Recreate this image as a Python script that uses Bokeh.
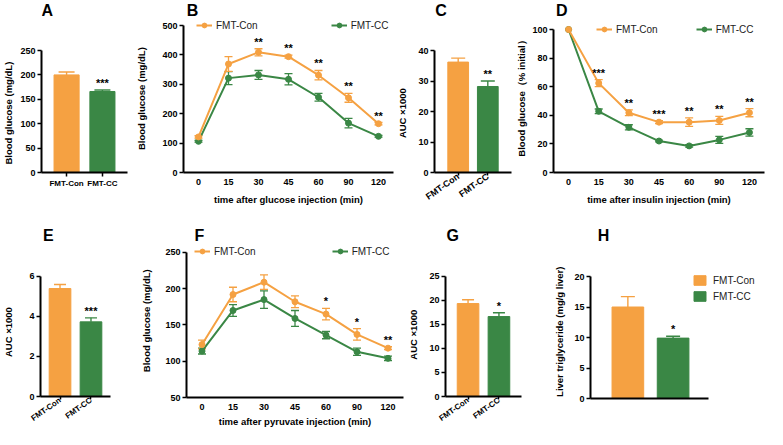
import math
from bokeh.plotting import figure
from bokeh.models import (FactorRange, Range1d, ColumnDataSource, Whisker, TeeHead,
                          Label, Legend, LegendItem, FixedTicker)
from bokeh.layouts import row, column
from bokeh.embed import file_html
from bokeh.resources import INLINE
from bokeh.core.properties import value

# ---------------- data ----------------
groups = ["FMT-Con", "FMT-CC"]
times = ["0", "15", "30", "45", "60", "90", "120"]

a_mean = [200, 166]
a_err = [6, 3]
a_sig = ["", "***"]
a_yticks = [0, 50, 100, 150, 200, 250]

b_con = [121, 369, 409, 394, 331, 254, 166]
b_con_err = [4, 25, 12, 5, 16, 15, 4]
b_cc = [106, 321, 332, 317, 256, 168, 123]
b_cc_err = [3, 22, 15, 19, 13, 16, 3]
b_sig = ["", "", "**", "**", "**", "**", "**"]
b_yticks = [0, 100, 200, 300, 400, 500]

c_mean = [36.2, 28.2]
c_err = [1.3, 1.8]
c_sig = ["", "**"]
c_yticks = [0, 10, 20, 30, 40]

d_con = [100, 62.5, 41.8, 35.2, 35.2, 36.4, 41.8]
d_con_err = [0, 2.5, 2.0, 1.0, 3.0, 2.8, 2.8]
d_cc = [100, 42.8, 31.6, 22.0, 18.6, 22.8, 28.0]
d_cc_err = [0, 1.6, 1.8, 0.6, 0.8, 2.4, 2.6]
d_sig = ["", "***", "**", "***", "**", "**", "**"]
d_yticks = [0, 20, 40, 60, 80, 100]

e_mean = [5.38, 3.72]
e_err = [0.2, 0.2]
e_sig = ["", "***"]
e_yticks = [0, 2, 4, 6]

f_con = [123, 192, 209, 182, 165, 137, 118]
f_con_err = [6, 10, 10, 8, 8, 8, 2]
f_cc = [114, 170, 185, 159, 136, 113, 104]
f_cc_err = [4, 8, 12, 11, 5, 5, 3]
f_sig = ["", "", "", "", "*", "*", "**"]
f_yticks = [50, 100, 150, 200, 250]

g_mean = [19.3, 16.6]
g_err = [0.8, 0.8]
g_sig = ["", "*"]
g_yticks = [0, 5, 10, 15, 20, 25]

h_mean = [15.0, 9.9]
h_err = [1.7, 0.3]
h_sig = ["", "*"]
h_yticks = [0, 5, 10, 15, 20]

# ---------------- style / layout ----------------
ORANGE = "#F5A142"
GREEN = "#3A8745"
COLORS = [ORANGE, GREEN]
FONT = "Liberation Sans"
YLAB_SIZE = 9.5

SX = 767.0 / 780.0
# row: (reference top, reference bottom, vertical shift reference->page content)
ROWS = {1: (0.0, 212.0, 0.0), 2: (225.0, 442.0, 13.0)}
STRIP = {1: 19, 2: 34}
XSTAND = {1: 6, 2: 3}
ROT_SIZE = {1: "9px", 2: "8px"}


def cx(x):
    return (x - 3.0) * SX


def cy(y, r):
    return y - ROWS[r][2]


def row_top(r):
    return round(cy(ROWS[r][0], r))


def row_bottom(r):
    return round(cy(ROWS[r][1], r))


def frame_top(r):
    return row_top(r) + STRIP[r]


def fig_width(s):
    return round(cx(s["fig"][1])) - round(cx(s["fig"][0]))


def geom(s):
    r = s["row"]
    W = fig_width(s)
    H = row_bottom(r) - row_top(r) - STRIP[r]
    bl = round(cx(s["fx"][0])) - round(cx(s["fig"][0]))
    br = round(cx(s["fig"][1])) - round(cx(s["fx"][1]))
    bb = row_bottom(r) - round(cy(s["fy"][1], r))
    return dict(width=W, height=H, min_border_left=bl, min_border_right=br,
                min_border_top=0, min_border_bottom=bb)


def y_range_ext(s, yticks):
    r = s["row"]
    top_c = round(cy(s["fy"][0], r))
    fb_c = round(cy(s["fy"][1], r))
    lo, hi = yticks[0], yticks[-1]
    ext = hi + (hi - lo) * (top_c - frame_top(r)) / (fb_c - top_c)
    return Range1d(lo, ext)


def centred_label(s, text, ref_center):
    # shift the rotated label along the axis so that it is centred on the drawn axis part
    r = s["row"]
    fb_c = round(cy(s["fy"][1], r))
    actual = (frame_top(r) + fb_c) / 2.0
    shift = cy(ref_center, r) - actual
    n = int(round(abs(2 * shift) / (0.278 * YLAB_SIZE)))
    if shift > 0:
        return text + "\u00a0" * n
    return "\u00a0" * n + text


def base_fig(s, xr, yr):
    p = figure(x_range=xr, y_range=yr, output_backend="svg", toolbar_location=None, **geom(s))
    p.xgrid.visible = False
    p.ygrid.visible = False
    p.outline_line_color = None
    p.background_fill_color = "white"
    p.border_fill_color = "white"
    return p


def style_axes(p, yticks, ylabel, ystand, xlabel=None, xstand=8, rotate=None, xticks_out=4,
               xlab_size="9px", xlab_standoff=2):
    for ax in (p.xaxis[0], p.yaxis[0]):
        ax.axis_line_width = 2
        ax.axis_line_color = "black"
        ax.major_tick_line_width = 1.5
        ax.major_tick_line_color = "black"
        ax.major_tick_in = 0
        ax.major_tick_out = 4
        ax.minor_tick_line_color = None
        ax.major_label_text_font = FONT
        ax.major_label_text_font_style = "bold"
        ax.major_label_text_font_size = "9px"
        ax.major_label_text_color = "black"
        ax.major_label_standoff = 2
        ax.axis_label_text_font = FONT
        ax.axis_label_text_font_style = "bold"
        ax.axis_label_text_font_size = "%gpx" % YLAB_SIZE
        ax.axis_label_text_color = "black"
    p.yaxis[0].ticker = FixedTicker(ticks=yticks)
    p.yaxis[0].bounds = (yticks[0], yticks[-1])
    p.yaxis[0].axis_label = ylabel
    p.yaxis[0].axis_label_standoff = ystand
    p.xaxis[0].major_tick_out = xticks_out
    p.xaxis[0].major_label_text_font_size = xlab_size
    p.xaxis[0].major_label_standoff = xlab_standoff
    if xlabel:
        p.xaxis[0].axis_label = xlabel
        p.xaxis[0].axis_label_standoff = xstand
    if rotate:
        p.xaxis[0].major_label_orientation = math.radians(35)
        p.xaxis[0].major_label_text_font_size = rotate
        p.xaxis[0].major_label_standoff = 0
        p.xaxis[0].major_tick_out = 3


def strip_fig(s, letter):
    r = s["row"]
    W = fig_width(s)
    S = STRIP[r]
    f = figure(width=W, height=S, x_range=Range1d(0, W), y_range=Range1d(0, S),
               x_axis_type=None, y_axis_type=None, toolbar_location=None,
               output_backend="svg", min_border=0, min_border_left=0, min_border_right=0,
               min_border_top=0, min_border_bottom=0)
    f.outline_line_color = None
    f.background_fill_color = "white"
    f.border_fill_color = "white"
    x = round(cx(s["letter"][0])) - round(cx(s["fig"][0]))
    y = S - (cy(s["letter"][1], r) - row_top(r))
    f.add_layout(Label(x=x, y=y, text=letter, text_font=FONT, text_font_style="bold",
                       text_font_size="16px", text_baseline="middle", text_align="left",
                       text_color="black"))
    return f


def stars(p, xs, ys, sigs):
    sx = [xs[i] for i in range(len(sigs)) if sigs[i]]
    sy = [ys[i] for i in range(len(sigs)) if sigs[i]]
    st = [sigs[i] for i in range(len(sigs)) if sigs[i]]
    p.text(x=sx, y=sy, text=st, text_align="center", text_baseline="bottom", y_offset=-1,
           text_font=value(FONT), text_font_style="bold", text_font_size="11px",
           text_color="black")


def draw_bars(p, xs, means, errs, sigs, cap):
    src = ColumnDataSource(dict(g=xs, m=means, c=COLORS))
    bars = p.vbar(x="g", top="m", width=0.7, source=src, fill_color="c", line_color="c")
    for i in range(len(xs)):
        ws = ColumnDataSource(dict(g=[xs[i]], lo=[means[i]], hi=[means[i] + errs[i]]))
        p.add_layout(Whisker(source=ws, base="g", lower="lo", upper="hi",
                             line_color=COLORS[i], line_width=1.4,
                             upper_head=TeeHead(size=cap, line_color=COLORS[i], line_width=1.4),
                             lower_head=None))
    stars(p, xs, [means[i] + errs[i] for i in range(len(xs))], sigs)
    return bars


def bar_panel(s, means, errs, sigs, yticks, ylabel, ystand, rotate, pad, ref_center, cap=14,
              xlab_size="9px"):
    xr = FactorRange(factors=groups, range_padding=pad, range_padding_units="absolute")
    p = base_fig(s, xr, y_range_ext(s, yticks))
    draw_bars(p, groups, means, errs, sigs, cap)
    style_axes(p, yticks, centred_label(s, ylabel, ref_center), ystand,
               rotate=ROT_SIZE[s["row"]] if rotate else None, xlab_size=xlab_size)
    return p


def line_panel(s, con, con_err, cc, cc_err, sigs, yticks, ylabel, xlabel, ystand,
               leg_x, leg_spacing, ref_center):
    r = s["row"]
    xr = FactorRange(factors=times)
    p = base_fig(s, xr, y_range_ext(s, yticks))
    rends = {}
    for name, ys, es, col in (("FMT-CC", cc, cc_err, GREEN), ("FMT-Con", con, con_err, ORANGE)):
        wt = [times[i] for i in range(len(times)) if es[i] > 0]
        wl = [ys[i] - es[i] for i in range(len(times)) if es[i] > 0]
        wh = [ys[i] + es[i] for i in range(len(times)) if es[i] > 0]
        ws = ColumnDataSource(dict(t=wt, lo=wl, hi=wh))
        p.add_layout(Whisker(source=ws, base="t", lower="lo", upper="hi", line_color=col,
                             line_width=1.3,
                             upper_head=TeeHead(size=8, line_color=col, line_width=1.3),
                             lower_head=TeeHead(size=8, line_color=col, line_width=1.3)))
        src = ColumnDataSource(dict(t=times, y=ys))
        ln = p.line("t", "y", source=src, line_color=col, line_width=2)
        sc = p.scatter("t", "y", source=src, marker="circle", size=6, fill_color=col,
                       line_color=col)
        rends[name] = [ln, sc]
    stars(p, times, [con[i] + con_err[i] for i in range(len(times))], sigs)
    style_axes(p, yticks, centred_label(s, ylabel, ref_center), ystand, xlabel=xlabel,
               xstand=XSTAND[r], xticks_out=0, xlab_standoff=6)
    lx = round(cx(leg_x)) - round(cx(s["fx"][0]))
    top_c = round(cy(s["fy"][0], r))
    fb_c = round(cy(s["fy"][1], r))
    leg = Legend(items=[LegendItem(label="FMT-Con", renderers=rends["FMT-Con"]),
                        LegendItem(label="FMT-CC", renderers=rends["FMT-CC"])],
                 location=(lx, fb_c - (top_c + 6)), orientation="horizontal",
                 spacing=round(leg_spacing * SX), padding=0, margin=0,
                 glyph_width=16, glyph_height=12, label_height=12, label_standoff=4,
                 border_line_color=None, background_fill_alpha=0,
                 label_text_font=FONT, label_text_font_size="10px", label_text_color="#222222")
    p.add_layout(leg)
    return p


# ---------------- panel geometry (reference pixel frame) ----------------
# letter = (left x, vertical centre y) of the panel letter
SA = dict(row=1, fig=(3, 138), fx=(33, 132), fy=(50, 172), letter=(3, 10))
SB = dict(row=1, fig=(138, 404), fx=(185.5, 402.5), fy=(25, 172), letter=(142, 10))
SC = dict(row=1, fig=(404, 525), fx=(432, 523), fy=(50, 172), letter=(405, 10))
SD = dict(row=1, fig=(525, 783), fx=(564.6, 780.2), fy=(29, 172), letter=(528, 10))
SE = dict(row=2, fig=(3, 140), fx=(35, 115), fy=(289, 411), letter=(8, 248))
SF = dict(row=2, fig=(140, 415), fx=(192.3, 412.8), fy=(265, 411), letter=(150, 248))
SG = dict(row=2, fig=(415, 560), fx=(447, 533), fy=(289, 411), letter=(417, 248))
SH = dict(row=2, fig=(560, 783), fx=(603, 783), fy=(289, 411), letter=(569, 248))

pA = bar_panel(SA, a_mean, a_err, a_sig, a_yticks, "Blood glucose  (mg/dL)", 3, False, 0.2,
               111.5, cap=16, xlab_size="8px")
pB = line_panel(SB, b_con, b_con_err, b_cc, b_cc_err, b_sig, b_yticks,
                "Blood glucose  (mg/dL)", "time after glucose injection (min)", 12,
                198, 74, 96.5)
pC = bar_panel(SC, c_mean, c_err, c_sig, c_yticks, "AUC ×1000", 7, True, 0.3, 113, cap=14)
pD = line_panel(SD, d_con, d_con_err, d_cc, d_cc_err, d_sig, d_yticks,
                "Blood glucose（% initial）", "time after insulin injection (min)", 2,
                608, 39, 96)
pE = bar_panel(SE, e_mean, e_err, e_sig, e_yticks, "AUC ×1000", 12, True, 0.13, 346, cap=12)
pF = line_panel(SF, f_con, f_con_err, f_cc, f_cc_err, f_sig, f_yticks,
                "Blood glucose  (mg/dL)", "time after pyruvate injection (min)", 10,
                200, 77, 333)
pG = bar_panel(SG, g_mean, g_err, g_sig, g_yticks, "AUC ×1000", 7, True, 0.23, 348.5, cap=12)

# panel H: numeric positions so the frame can also hold the legend on the right
h_x = list(range(len(groups)))
UNIT = 46.0  # reference pixels per category
hx_range = Range1d(-(641 - 603) / UNIT, 1 + (783 - 687) / UNIT)
pH = base_fig(SH, hx_range, y_range_ext(SH, h_yticks))
hbars = draw_bars(pH, h_x, h_mean, h_err, h_sig, 14)
style_axes(pH, h_yticks, centred_label(SH, "Liver triglyceride (mg/g liver)", 344), 6)
pH.xaxis[0].ticker = FixedTicker(ticks=[])
pH.xaxis[0].bounds = (hx_range.start, 1 + (723 - 687) / UNIT)
hx = round(cx(707)) - round(cx(SH["fx"][0]))
hleg = Legend(items=[LegendItem(label="FMT-Con", renderers=[hbars], index=0),
                     LegendItem(label="FMT-CC", renderers=[hbars], index=1)],
              location=(hx, round(cy(411, 2)) - (round(cy(287, 2)) + 28)),
              orientation="vertical", spacing=4, padding=0, margin=0,
              glyph_width=15, glyph_height=12, label_height=12, label_standoff=6,
              border_line_color=None, background_fill_alpha=0,
              label_text_font=FONT, label_text_font_size="10px", label_text_color="#222222")
pH.add_layout(hleg)

cols1 = [column(strip_fig(s, l), p) for s, l, p in
         ((SA, "A", pA), (SB, "B", pB), (SC, "C", pC), (SD, "D", pD))]
cols2 = [column(strip_fig(s, l), p) for s, l, p in
         ((SE, "E", pE), (SF, "F", pF), (SG, "G", pG), (SH, "H", pH))]
layout = column(row(*cols1), row(*cols2))
open("out.html", "w").write(file_html(layout, INLINE))
